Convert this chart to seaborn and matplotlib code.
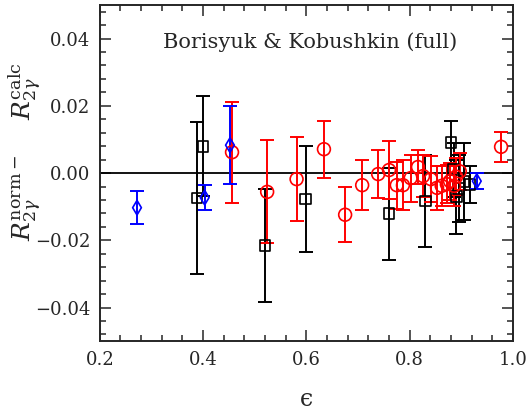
import numpy as np
import pandas as pd
import matplotlib
matplotlib.use("Agg")
import matplotlib.pyplot as plt
import seaborn as sns
from matplotlib.ticker import MultipleLocator

# blue diamonds
eps_blue = [0.272, 0.403, 0.452, 0.930]
dr_blue = [-0.0103, -0.0073, 0.0083, -0.0024]
err_blue = [0.0050, 0.0037, 0.0117, 0.0023]

# black squares
eps_black = [0.388, 0.400, 0.520, 0.599, 0.760, 0.830, 0.880, 0.885, 0.890, 0.895, 0.905, 0.917]
dr_black = [-0.0074, 0.0080, -0.0216, -0.0077, -0.0121, -0.0083, 0.0090, 0.0010, -0.0070, -0.0045, -0.0025, -0.0034]
err_black = [0.0225, 0.0148, 0.0168, 0.0157, 0.0137, 0.0137, 0.0065, 0.0080, 0.0110, 0.0100, 0.0115, 0.0056]

# red circles
eps_red = [0.456, 0.524, 0.581, 0.634, 0.675, 0.708, 0.739, 0.760, 0.775, 0.787, 0.802,
           0.816, 0.826, 0.841, 0.853, 0.862, 0.872, 0.878, 0.886, 0.890, 0.897, 0.977]
dr_red = [0.0062, -0.0056, -0.0018, 0.0071, -0.0124, -0.0036, -0.0003, 0.0009, -0.0036, -0.0036, -0.0015,
          0.0018, -0.0009, -0.0018, -0.0044, -0.0038, -0.0033, -0.0024, -0.0038, -0.0011, 0.0005, 0.0078]
err_red = [0.0150, 0.0153, 0.0124, 0.0085, 0.0082, 0.0074, 0.0071, 0.0086, 0.0070, 0.0075, 0.0070,
           0.0050, 0.0062, 0.0068, 0.0065, 0.0060, 0.0057, 0.0055, 0.0060, 0.0055, 0.0055, 0.0045]

blue = pd.DataFrame({'eps': eps_blue, 'dr': dr_blue, 'err': err_blue})
black = pd.DataFrame({'eps': eps_black, 'dr': dr_black, 'err': err_black})
red = pd.DataFrame({'eps': eps_red, 'dr': dr_red, 'err': err_red})

sns.set_style("ticks")
plt.rcParams['font.family'] = ['DejaVu Serif']
plt.rcParams['mathtext.fontset'] = 'dejavuserif'

fig = plt.figure(figsize=(5.31, 4.15), dpi=100)
ax = fig.add_axes([0.188, 0.178, 0.778, 0.810])

ax.axhline(0, color='black', lw=1.3, zorder=1)

for d, col, mk, s in [(black, 'black', 's', 60), (red, 'red', 'o', 85), (blue, 'blue', 'd', 55)]:
    ax.errorbar(d.eps, d.dr, yerr=d.err, fmt='none', ecolor=col, elinewidth=1.4,
                capsize=5, capthick=1.4, zorder=2)
    sns.scatterplot(data=d, x='eps', y='dr', marker=mk, s=s, facecolor='none',
                    edgecolor=col, linewidth=1.2, ax=ax, zorder=3)

ax.set_xlim(0.2, 1.0)
ax.set_ylim(-0.05, 0.05)
ax.xaxis.set_major_locator(MultipleLocator(0.2))
ax.xaxis.set_minor_locator(MultipleLocator(0.04))
ax.yaxis.set_major_locator(MultipleLocator(0.02))
ax.yaxis.set_minor_locator(MultipleLocator(0.004))
ax.xaxis.set_major_formatter(matplotlib.ticker.FormatStrFormatter('%.1f'))
ax.yaxis.set_major_formatter(matplotlib.ticker.FuncFormatter(lambda v, p: ('%.2f' % v).replace('-', '\u2212')))
ax.tick_params(which='both', direction='in', top=True, right=True, width=1.1, labelsize=13, pad=7)
ax.tick_params(which='major', length=8)
ax.tick_params(which='minor', length=4)
for sp in ax.spines.values():
    sp.set_linewidth(1.4)

ax.set_xlabel('\u03f5', fontsize=17, labelpad=14)
ax.set_ylabel(r'$R_{2\gamma}^{\rm norm-}\quad\ R_{2\gamma}^{\rm calc}$', fontsize=18)
ax.yaxis.set_label_coords(-0.135, 0.5625)
ax.text(0.153, 0.89, 'Borisyuk & Kobushkin (full)', transform=ax.transAxes, fontsize=15, va='center')

fig.savefig('out.png', dpi=100)
